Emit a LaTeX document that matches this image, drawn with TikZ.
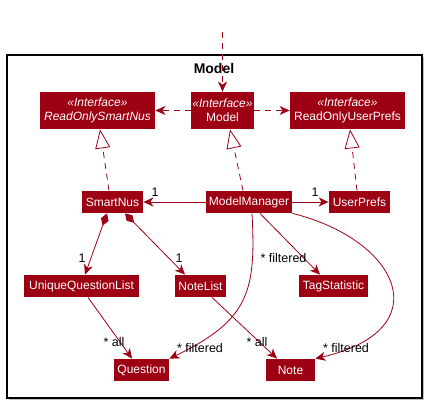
\documentclass[tikz,border=0pt]{standalone}
\usepackage{fontspec}
\setmainfont{Liberation Sans}
\usetikzlibrary{arrows.meta}
\definecolor{modelred}{HTML}{9D0012}
\tikzset{
  umlbox/.style={fill=modelred, text=white, inner sep=0pt, align=center,
    minimum height=22pt, font=\fontsize{12}{14}\selectfont},
  ifacebox/.style={umlbox, minimum height=37pt},
  mult/.style={text=black, inner sep=0pt, font=\fontsize{12.5}{14}\selectfont},
  realize/.style={draw=modelred, dash pattern=on 6pt off 5pt,
    -{Triangle[open, fill=white, length=19pt, width=15pt]}},
  depend/.style={draw=modelred, dash pattern=on 6pt off 5pt, ->},
  assoc/.style={draw=modelred, ->},
  compose/.style={draw=modelred, {Diamond[length=13pt, width=8pt]}->},
}
\begin{document}
\begin{tikzpicture}[x=1pt, y=-1pt, line width=0.8pt,
  >={Stealth[length=10pt, width=9pt, inset=3pt]}]
  \useasboundingbox (0,0) rectangle (426,403);

  % package frame
  \fill[black!25] (9,57) rectangle (424,400);
  \draw[line width=1.2pt, fill=white] (7,55) rectangle (422,398);
  \node[font=\bfseries\fontsize{14}{16}\selectfont] (title) at (214,68) {Model};

  % interfaces
  \node[ifacebox, minimum width=115pt] (rosn) at (97.5,110.5) {\textit{«Interface»}\\\textit{ReadOnlySmartNus}};
  \node[ifacebox, minimum width=63pt] (model) at (222.5,110.5) {\textit{«Interface»}\\Model};
  \node[ifacebox, minimum width=115pt] (roup) at (347.5,110.5) {\textit{«Interface»}\\ReadOnlyUserPrefs};

  % classes
  \node[umlbox, minimum width=61pt] (smartnus) at (112.5,202) {SmartNus};
  \node[umlbox, minimum width=86pt] (mm) at (249,202) {ModelManager};
  \node[umlbox, minimum width=61pt] (userprefs) at (359.5,202) {UserPrefs};
  \node[umlbox, minimum width=115pt] (uql) at (81.5,286) {UniqueQuestionList};
  \node[umlbox, minimum width=51pt] (notelist) at (200.5,286) {NoteList};
  \node[umlbox, minimum width=69pt] (tagstat) at (333.5,286) {TagStatistic};
  \node[umlbox, minimum width=55pt] (question) at (141.5,370) {Question};
  \node[umlbox, minimum width=49pt] (note) at (290.5,370) {Note};

  % incoming dependency
  \coordinate (outside) at (222.5,32);
  \draw[depend] (outside) -- (model.north);
  \draw[depend] (model.west) -- (rosn.east);
  \draw[depend] (model.east) -- (roup.west);

  % realizations
  \draw[realize] ([xshift=-3.5pt]smartnus.north) -- ([xshift=2.5pt]rosn.south);
  \draw[realize] ([xshift=-6pt]mm.north) -- ([xshift=7.5pt]model.south);
  \draw[realize] ([xshift=-2.5pt]userprefs.north) -- ([xshift=2.5pt]roup.south);

  % associations
  \draw[assoc] (mm.west) -- (smartnus.east);
  \draw[assoc] (mm.east) -- (userprefs.west);
  \draw[compose] ([xshift=-5.5pt]smartnus.south) -- ([xshift=3.5pt]uql.north);
  \draw[compose] ([xshift=12.5pt]smartnus.south) -- ([xshift=-15.5pt]notelist.north);
  \draw[assoc] ([xshift=11pt]mm.south) -- ([xshift=-13.5pt]tagstat.north);
  \draw[assoc] ([xshift=3pt]mm.south) .. controls (256,290) and (250,320) .. (question.north east);
  \draw[assoc] (mm.south east) .. controls (400,240) and (440,330) .. (note.north east);
  \draw[assoc] ([xshift=6.5pt]uql.south) -- ([xshift=-9.5pt]question.north);
  \draw[assoc] ([xshift=11.5pt]notelist.south) -- ([xshift=-13.5pt]note.north);

  % multiplicities
  \node[mult] (m1) at (155,192) {1};
  \node[mult] (m2) at (315,192) {1};
  \node[mult] (m3) at (82,258) {1};
  \node[mult] (m4) at (179,258) {1};
  \node[mult] (m5) at (283.5,258) {* filtered};
  \node[mult] (m6) at (114,342) {* all};
  \node[mult] (m7) at (200,348) {* filtered};
  \node[mult] (m8) at (257,342) {* all};
  \node[mult] (m9) at (346,348) {* filtered};
\end{tikzpicture}
\end{document}
